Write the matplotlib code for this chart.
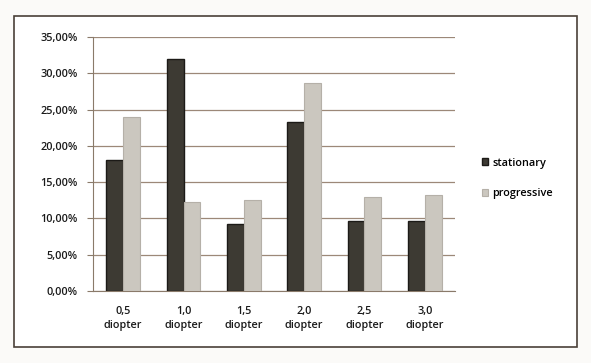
import numpy as np
import matplotlib.pyplot as plt
from matplotlib.patches import Rectangle
from matplotlib.ticker import FuncFormatter

categories = ['0,5\ndiopter', '1,0\ndiopter', '1,5\ndiopter',
              '2,0\ndiopter', '2,5\ndiopter', '3,0\ndiopter']
stationary = [18.0, 32.0, 9.3, 23.3, 9.7, 9.7]
progressive = [24.0, 12.3, 12.6, 28.7, 12.9, 13.2]
yticks = [0, 5, 10, 15, 20, 25, 30, 35]

plt.rcParams['font.family'] = ['Open Sans', 'DejaVu Sans']
plt.rcParams['font.weight'] = 'semibold'

fig = plt.figure(figsize=(5.91, 3.63), dpi=100)
fig.patch.set_facecolor('#fbfaf8')

# outer chart border, kept behind the axes
fig.add_artist(Rectangle((14 / 591, 16 / 363), 563 / 591, 331 / 363,
                         transform=fig.transFigure, fill=True,
                         facecolor='white', edgecolor='#4a4038', lw=1.2,
                         zorder=-1))

ax = fig.add_axes([93 / 591, 72 / 363, 362 / 591, 254 / 363])
ax.set_facecolor('none')

x = np.arange(len(categories))
w = 0.28
ax.bar(x - w / 2, stationary, w, color='#3d3a33', edgecolor='#1c1a17',
       lw=1.0, label='stationary', zorder=3)
ax.bar(x + w / 2, progressive, w, color='#cbc7bf', edgecolor='#b5b0a8',
       lw=0.8, label='progressive', zorder=3)

ax.set_xlim(-0.5, len(categories) - 0.5)
ax.set_ylim(0, 35)
ax.set_yticks(yticks)
ax.yaxis.set_major_formatter(FuncFormatter(lambda v, p: f'{v:.2f}%'.replace('.', ',')))
ax.set_xticks(x)
ax.set_xticklabels(categories, fontsize=7.8, color='#1a1a1a', linespacing=1.35)
ax.tick_params(axis='y', labelsize=7.8, labelcolor='#1a1a1a', length=4,
               color='#8a7a6a', pad=7)
ax.tick_params(axis='x', length=0, pad=11)

ax.grid(axis='y', color='#9c8878', lw=0.9, zorder=0)
for s in ['top', 'right']:
    ax.spines[s].set_visible(False)
ax.spines['left'].set_color('#8a7a6a')
ax.spines['bottom'].set_color('#8a7a6a')

fig.legend(loc='upper left', bbox_to_anchor=(472 / 591, 1 - 148 / 363),
           frameon=False, fontsize=7.8, handlelength=0.6, handleheight=0.6,
           handletextpad=0.4, labelspacing=1.8)

fig.savefig('out.png', dpi=100, facecolor=fig.get_facecolor())
